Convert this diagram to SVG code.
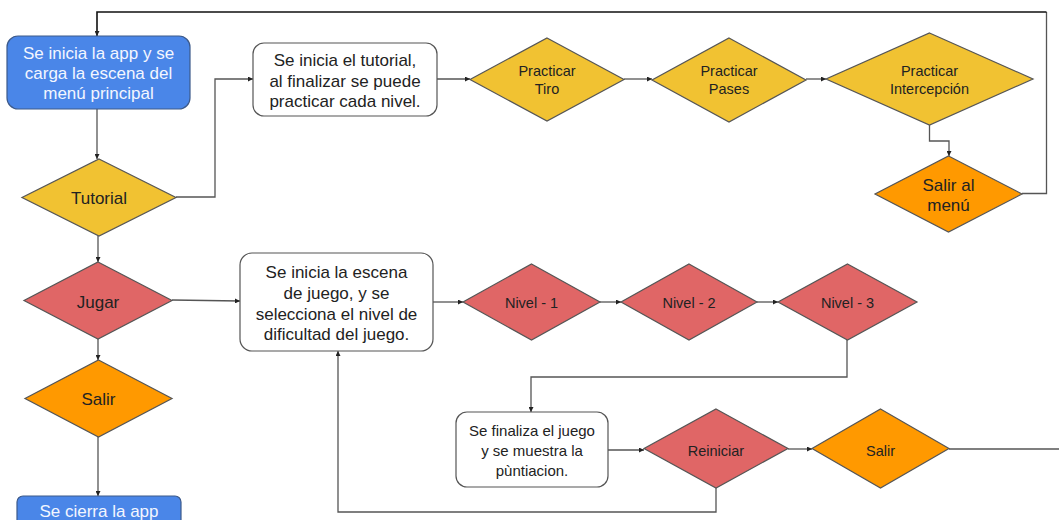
<svg xmlns="http://www.w3.org/2000/svg" width="1059" height="520" viewBox="0 0 1059 520">
<defs>
<marker id="arr" viewBox="0 0 6 6" refX="6" refY="3" markerWidth="5" markerHeight="5" markerUnits="userSpaceOnUse" orient="auto">
<path d="M0 0 L6 3 L0 6 Z" fill="#222"/>
</marker>
</defs>
<style>
.c{fill:none;stroke:#555;stroke-width:1.3}
.a{marker-end:url(#arr)}
.box{fill:#fff;stroke:#555;stroke-width:1.2}
.blue{fill:#4a86e8;stroke:#3d5a8a;stroke-width:1.2}
.yel{fill:#f1c232;stroke:#555;stroke-width:1.2}
.red{fill:#e06666;stroke:#555;stroke-width:1.2}
.org{fill:#ff9900;stroke:#555;stroke-width:1.2}
text{font-family:"Liberation Sans",Arial,sans-serif;text-anchor:middle;fill:#222}
.w{fill:#f3f6ff}
.f17{font-size:17px}
.f15{font-size:15px}
.f14{font-size:14.5px}
</style>
<rect width="1059" height="520" fill="#fff"/>
<g id="connectors">
<path class="c" d="M1022 193.5 H1046.5 V12"/>
<path class="c a" d="M1046.5 12 H97 V36" style="stroke:#111;stroke-width:1.6"/>
<path class="c a" d="M97 109 V159"/>
<path class="c a" d="M176 197 H215 V79 H253"/>
<path class="c a" d="M437 79 H470"/>
<path class="c a" d="M624 79 H652"/>
<path class="c a" d="M806 79 H826"/>
<path class="c a" d="M929.5 125 V141 H949 V156"/>
<path class="c a" d="M98 236 V262"/>
<path class="c a" d="M172 300 L240 301"/>
<path class="c a" d="M98 339 V360"/>
<path class="c a" d="M98 437 V496"/>
<path class="c a" d="M433 302 H463"/>
<path class="c a" d="M600 302 H621"/>
<path class="c a" d="M757 302 H778"/>
<path class="c a" d="M847 340 V377 H531 V412"/>
<path class="c a" d="M608 450 H644"/>
<path class="c a" d="M788 449 H812"/>
<path class="c" d="M949 449 H1059"/>
<path class="c a" d="M716 488 V512 H338 V351"/>
</g>
<g id="inicio">
<rect class="blue" x="7" y="36" width="183" height="73" rx="11"/>
<text class="f17 w" x="98.5" y="59">Se inicia la app y se</text>
<text class="f17 w" x="98.5" y="79">carga la escena del</text>
<text class="f17 w" x="98.5" y="99">menú principal</text>
</g>
<g id="tutorial">
<polygon class="yel" points="99,159 176,197.5 99,236 22,197.5"/>
<text class="f17" x="99" y="204">Tutorial</text>
</g>
<g id="tutorial-box">
<rect class="box" x="253" y="43" width="184" height="73" rx="11"/>
<text class="f17" x="345" y="66">Se inicia el tutorial,</text>
<text class="f17" x="345" y="87">al finalizar se puede</text>
<text class="f17" x="345" y="107">practicar cada nivel.</text>
</g>
<g id="tiro">
<polygon class="yel" points="547,38 624,79.5 547,121 470,79.5"/>
<text class="f14" x="547" y="76">Practicar</text>
<text class="f14" x="547" y="94">Tiro</text>
</g>
<g id="pases">
<polygon class="yel" points="729,38 806,80 729,122 652,80"/>
<text class="f14" x="729" y="76">Practicar</text>
<text class="f14" x="729" y="94">Pases</text>
</g>
<g id="intercepcion">
<polygon class="yel" points="929.5,33 1033,79 929.5,125 826,79"/>
<text class="f14" x="929.5" y="76">Practicar</text>
<text class="f14" x="929.5" y="94">Intercepción</text>
</g>
<g id="salir-menu">
<polygon class="org" points="948.5,156 1022,194 948.5,232 875,194"/>
<text class="f17" x="948.5" y="191">Salir al</text>
<text class="f17" x="948.5" y="211">menú</text>
</g>
<g id="jugar">
<polygon class="red" points="98,262 172,300.5 98,339 24,300.5"/>
<text class="f17" x="98" y="308">Jugar</text>
</g>
<g id="salir">
<polygon class="org" points="98.5,360 172,398.5 98.5,437 25,398.5"/>
<text class="f17" x="98.5" y="405">Salir</text>
</g>
<g id="cierra">
<rect class="blue" x="17" y="496" width="164" height="40" rx="6"/>
<text class="f17 w" x="99" y="517">Se cierra la app</text>
</g>
<g id="juego-box">
<rect class="box" x="240" y="253" width="193" height="98" rx="12"/>
<text class="f17" x="336.5" y="278">Se inicia la escena</text>
<text class="f17" x="336.5" y="299">de juego, y se</text>
<text class="f17" x="336.5" y="320">selecciona el nivel de</text>
<text class="f17" x="336.5" y="340">dificultad del juego.</text>
</g>
<g id="nivel1">
<polygon class="red" points="531.5,264 600,302 531.5,340 463,302"/>
<text class="f14" x="531.5" y="308">Nivel - 1</text>
</g>
<g id="nivel2">
<polygon class="red" points="689,264 757,302 689,340 621,302"/>
<text class="f14" x="689" y="308">Nivel - 2</text>
</g>
<g id="nivel3">
<polygon class="red" points="847.5,264 917,302 847.5,340 778,302"/>
<text class="f14" x="847.5" y="308">Nivel - 3</text>
</g>
<g id="fin-box">
<rect class="box" x="456" y="412" width="152" height="75" rx="11"/>
<text class="f15" x="532" y="436">Se finaliza el juego</text>
<text class="f15" x="532" y="456">y se muestra la</text>
<text class="f15" x="532" y="476">pùntiacion.</text>
</g>
<g id="reiniciar">
<polygon class="red" points="716,409 788,448.5 716,488 644,448.5"/>
<text class="f14" x="716" y="456">Reiniciar</text>
</g>
<g id="salir2">
<polygon class="org" points="880.5,409 949,448.5 880.5,488 812,448.5"/>
<text class="f14" x="880.5" y="456">Salir</text>
</g>
</svg>
